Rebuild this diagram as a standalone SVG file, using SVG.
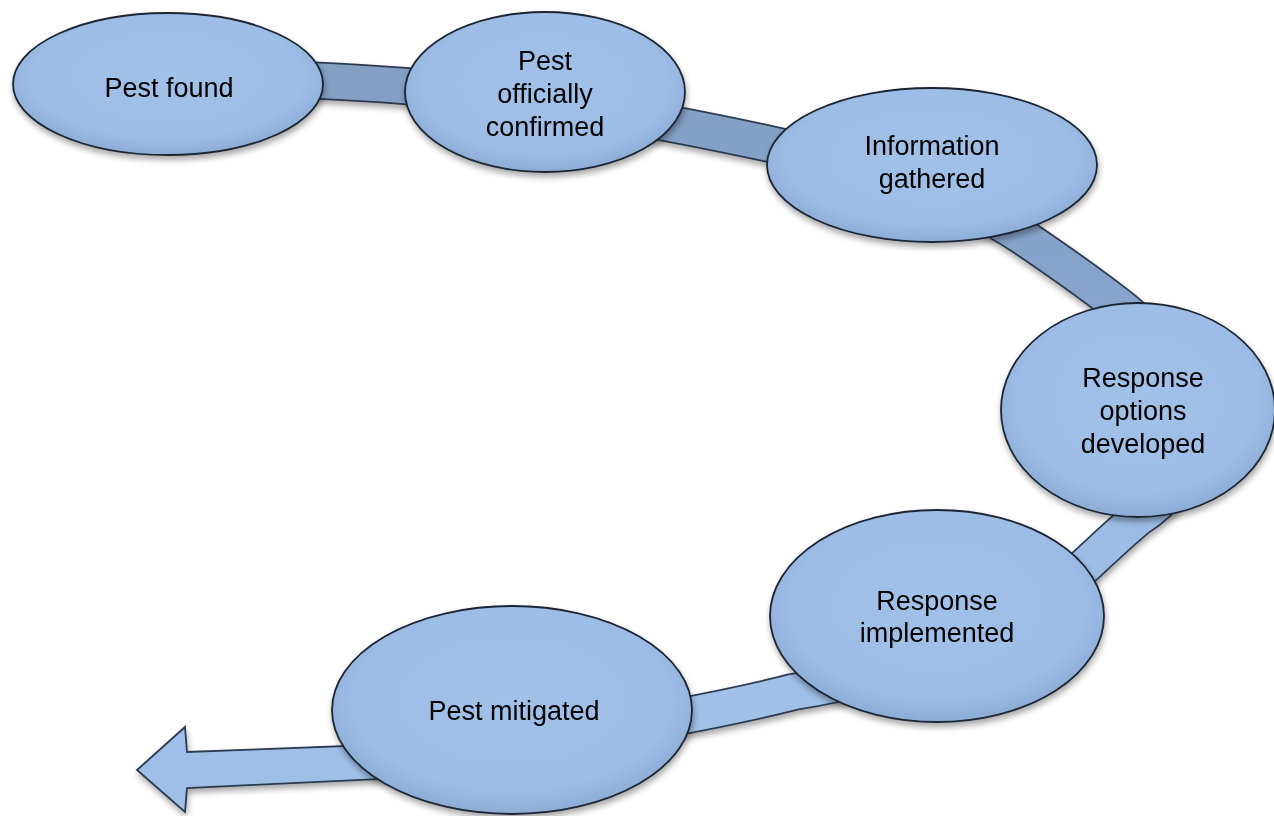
<svg xmlns="http://www.w3.org/2000/svg" width="1274" height="816" viewBox="0 0 1274 816">
  <defs>
    <linearGradient id="bandFill" gradientUnits="userSpaceOnUse" x1="0" y1="60" x2="0" y2="800">
      <stop offset="0" stop-color="#849ec4"/>
      <stop offset="0.3" stop-color="#87a3cb"/>
      <stop offset="0.6" stop-color="#9dbce5"/>
      <stop offset="1" stop-color="#a3c2ea"/>
    </linearGradient>
    <radialGradient id="nodeFill" cx="0.5" cy="0.45" r="0.55">
      <stop offset="0" stop-color="#a2c1e9"/>
      <stop offset="0.8" stop-color="#9ebde6"/>
      <stop offset="1" stop-color="#8cabd5"/>
    </radialGradient>
    <filter id="shadow" x="-10%" y="-10%" width="120%" height="130%">
      <feGaussianBlur in="SourceAlpha" stdDeviation="3"/>
      <feOffset dx="1" dy="4" result="b"/>
      <feComponentTransfer><feFuncA type="linear" slope="0.35"/></feComponentTransfer>
      <feMerge><feMergeNode/><feMergeNode in="SourceGraphic"/></feMerge>
    </filter>
    <style>
      .node { fill: url(#nodeFill); stroke: #1c2533; stroke-width: 1.8; }
      .label { font-family: "Liberation Sans", Arial, sans-serif; font-size: 27px; fill: #000; text-anchor: middle; }
      .bandEdge { fill: none; stroke: #2c3a4f; stroke-width: 38; }
      .bandBody { fill: none; stroke: url(#bandFill); stroke-width: 34.5; }
    </style>
  </defs>
  <rect width="1274" height="816" fill="#ffffff"/>

  <!-- winding ribbon arrow linking the stages -->
  <g id="connectors" filter="url(#shadow)">
    <path id="band-edge" class="bandEdge" d="M 240 78 C 300 79 350 82 405 86 C 520 96 650 118 770 144 C 880 168 960 195 1023 237 C 1060 262 1092 285 1118 305 C 1200 368 1215 470 1138 518 C 1120 533 1103 549 1086 565 C 1000 640 900 675 793 692 C 700 716 520 745 420 760"/>
    <path id="band-body" class="bandBody" d="M 240 78 C 300 79 350 82 405 86 C 520 96 650 118 770 144 C 880 168 960 195 1023 237 C 1060 262 1092 285 1118 305 C 1200 368 1215 470 1138 518 C 1120 533 1103 549 1086 565 C 1000 640 900 675 793 692 C 700 716 520 745 420 760"/>
    <path id="arrow-head" d="M 425 743 L 187 752 L 185 727 L 137 770 L 185 812 L 187 788 L 425 777 Z" fill="#a0bfe8" stroke="#2c3a4f" stroke-width="1.8" stroke-linejoin="miter"/>
  </g>

  <g id="node-pest-found" filter="url(#shadow)">
    <ellipse class="node" cx="168" cy="84" rx="155" ry="71"/>
    <text class="label" x="169" y="97">Pest found</text>
  </g>

  <g id="node-confirmed" filter="url(#shadow)">
    <ellipse class="node" cx="545" cy="92" rx="140" ry="80"/>
    <text class="label" x="545" y="70">Pest</text>
    <text class="label" x="545" y="103">officially</text>
    <text class="label" x="545" y="136">confirmed</text>
  </g>

  <g id="node-information" filter="url(#shadow)">
    <ellipse class="node" cx="932" cy="165" rx="165" ry="77"/>
    <text class="label" x="932" y="155">Information</text>
    <text class="label" x="932" y="188">gathered</text>
  </g>

  <g id="node-options" filter="url(#shadow)">
    <ellipse class="node" cx="1138" cy="410" rx="137" ry="107"/>
    <text class="label" x="1143" y="387">Response</text>
    <text class="label" x="1143" y="420">options</text>
    <text class="label" x="1143" y="453">developed</text>
  </g>

  <g id="node-implemented" filter="url(#shadow)">
    <ellipse class="node" cx="937" cy="616" rx="167" ry="106"/>
    <text class="label" x="937" y="610">Response</text>
    <text class="label" x="937" y="642">implemented</text>
  </g>

  <g id="node-mitigated" filter="url(#shadow)">
    <ellipse class="node" cx="512" cy="710" rx="180" ry="104"/>
    <text class="label" x="514" y="720">Pest mitigated</text>
  </g>
</svg>
